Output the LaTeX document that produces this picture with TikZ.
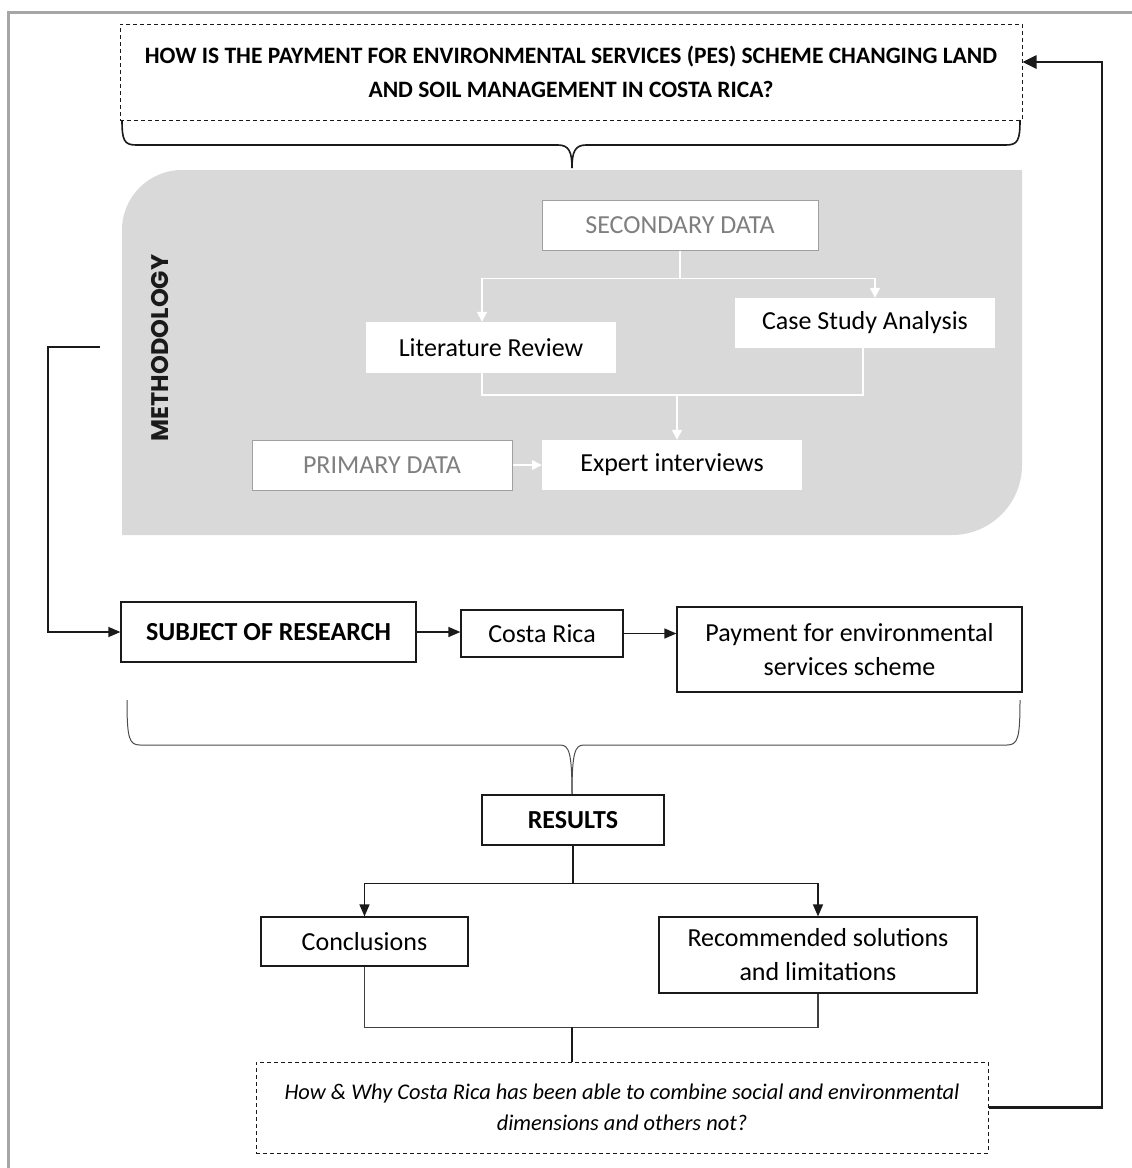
\documentclass[tikz,border=0pt]{standalone}
\usepackage{fontspec}
\setmainfont{Carlito}
\newfontfamily\methfont{Poppins}
\usetikzlibrary{arrows.meta}
\definecolor{regiongray}{HTML}{D9D9D9}
\definecolor{framegray}{HTML}{A6A6A6}
\definecolor{softtext}{HTML}{7F7F7F}
\definecolor{softborder}{HTML}{A0A0A0}
\definecolor{inkline}{HTML}{1A1A1A}
\begin{document}
\begin{tikzpicture}[x=1pt,y=-1pt,
  mainfont/.style={font=\fontsize{26}{34}\selectfont},
  box/.style={draw=inkline,line width=1.2pt,fill=white,inner sep=0pt,align=center,mainfont},
  dashbox/.style={draw=inkline,line width=1pt,dash pattern=on 4pt off 3pt,fill=white,inner sep=0pt,align=center},
  whitebox/.style={draw=none,fill=white,inner sep=0pt,align=center,mainfont},
  softbox/.style={draw=softborder,line width=1pt,fill=white,inner sep=0pt,align=center,mainfont,text=softtext},
  wline/.style={draw=white,line width=1.6pt},
  warrow/.style={draw=white,line width=1.6pt,-{Triangle[length=10pt,width=10pt,fill=white]}},
  bline/.style={draw=inkline,line width=1.4pt},
  barrow/.style={draw=inkline,line width=1.4pt,-{Triangle[length=12pt,width=10pt]}},
  fbarrow/.style={draw=inkline,line width=2.6pt,-{Triangle[length=14pt,width=13pt]}},
  bracel/.style={draw=inkline,line width=1.6pt},
  bracethin/.style={draw=black!70,line width=1pt}
]
\useasboundingbox (0,0) rectangle (1132,1168);
% frame
\draw[framegray,line width=3pt] (1132,12) -- (8,12) -- (8,1168);
% top question
\node[dashbox,minimum width=902pt,minimum height=96pt,font=\bfseries\fontsize{23.5}{34}\selectfont] (top) at (571,72)
  {\raisebox{3pt}{\parbox{900pt}{\centering HOW IS THE PAYMENT FOR ENVIRONMENTAL SERVICES (PES) SCHEME CHANGING LAND\\AND SOIL MANAGEMENT IN COSTA RICA?}}};
% brace 1
\draw[bracel] (122,120) .. controls (122,140) and (124,145) .. (136,145) -- (558,145) .. controls (569,145) and (572,152) .. (572,168);
\draw[bracel] (1020,120) .. controls (1020,140) and (1018,145) .. (1006,145) -- (586,145) .. controls (575,145) and (572,152) .. (572,168);
% methodology region
\fill[regiongray] (122,535) -- (122,230) arc[start angle=180,end angle=270,radius=60] -- (1022,170) -- (1022,465) arc[start angle=0,end angle=90,radius=70] -- cycle;
\node[rotate=90,font=\methfont\bfseries\fontsize{24}{28}\selectfont,text=inkline] (meth) at (160,348) {METHODOLOGY};
\node[softbox,minimum width=276pt,minimum height=50pt] (sec) at (680,225) {SECONDARY DATA};
\node[whitebox,minimum width=250pt,minimum height=51pt] (lit) at (491,347.5) {Literature Review};
\node[whitebox,minimum width=260pt,minimum height=50pt] (case) at (865,323) {Case Study Analysis};
\node[whitebox,minimum width=260pt,minimum height=50pt] (expert) at (672,465) {Expert interviews};
\node[softbox,minimum width=260pt,minimum height=50pt] (prim) at (382,465) {PRIMARY DATA};
\draw[warrow] (sec.south) -- ++(0,28) -| ([xshift=-9pt]lit.north);
\draw[warrow] (sec.south) -- ++(0,28) -| ([xshift=10pt]case.north);
\coordinate (mj) at (677,395);
\draw[wline] ([xshift=-9pt]lit.south) |- (mj) -| ([xshift=-2pt]case.south);
\draw[warrow] (mj) -- ([xshift=5pt]expert.north);
\draw[warrow] (prim.east) -- (expert.west);
% subject row
\node[box,minimum width=295pt,minimum height=60pt] (subj) at (268.5,632) {\textbf{SUBJECT OF RESEARCH}};
\node[box,minimum width=162pt,minimum height=47pt] (costa) at (542,633.5) {Costa Rica};
\node[box,minimum width=345pt,minimum height=85pt] (pes) at (849.5,649.5) {Payment for environmental\\services scheme};
% left connector
\coordinate (mstart) at (100,347);
\draw[barrow] (mstart) -- (48,347) |- (subj.west);
\draw[barrow] (subj.east) -- (subj.east -| costa.west);
\draw[barrow] (costa.east) -- (costa.east -| pes.west);
% brace 2
\draw[bracethin] (127,700) .. controls (127,738) and (129,745) .. (140,745) -- (560,745) .. controls (569,745) and (572,752) .. (572,795);
\draw[bracethin] (1020,700) .. controls (1020,738) and (1018,745) .. (1007,745) -- (584,745) .. controls (575,745) and (572,752) .. (572,795);
% results
\node[box,minimum width=182pt,minimum height=50pt] (results) at (573,820) {\textbf{RESULTS}};
\node[box,minimum width=207pt,minimum height=49pt] (concl) at (364.5,941.5) {Conclusions};
\node[box,minimum width=318pt,minimum height=76pt] (rec) at (818,955) {Recommended solutions\\and limitations};
\draw[barrow] (results.south) -- ++(0,38) -| (concl.north);
\draw[barrow] (results.south) -- ++(0,38) -| (rec.north);
% bottom question
\node[dashbox,minimum width=732pt,minimum height=91pt,font=\itshape\fontsize{22.4}{31}\selectfont] (bq) at (622,1107.5)
  {How \& Why Costa Rica has been able to combine social and environmental\\dimensions and others not?};
\draw[bline,draw=black!75] (concl.south) -- ++(0,61) -| (rec.south);
\draw[bline] ([xshift=-50pt]bq.north) -- ++(0,-35);
% feedback
\coordinate (fbr) at (1102,62);
\coordinate (topin) at ([yshift=10pt]top.east);
\draw[fbarrow] (bq.east) -- (bq.east -| fbr) -- (fbr) -- (topin);
\end{tikzpicture}
\end{document}
